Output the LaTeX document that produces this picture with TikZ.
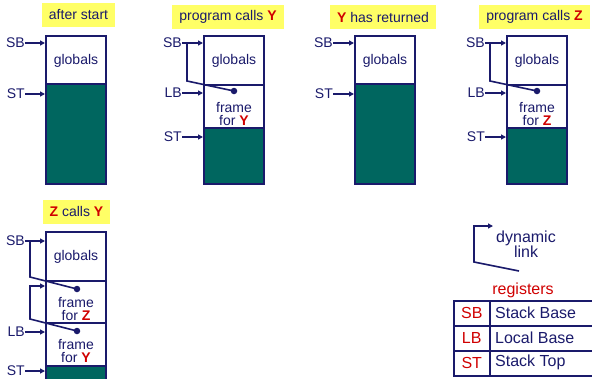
\documentclass[tikz,border=0pt]{standalone}
\usepackage{fontspec}
\setmainfont{Liberation Sans}
\usetikzlibrary{arrows.meta}
\definecolor{nv}{HTML}{1A1A6B}
\definecolor{tl}{HTML}{00665F}
\definecolor{yl}{HTML}{FFFF66}
\definecolor{rd}{HTML}{D00000}
\newcommand{\hl}[1]{\textcolor{rd}{\textbf{#1}}}
\begin{document}
\begin{tikzpicture}[x=1pt,y=-1pt,
  font=\fontsize{14}{13}\selectfont, text=nv,
  cell/.style={draw=nv, line width=2pt, anchor=north west, minimum width=60pt, inner sep=0pt, outer sep=0pt},
  reg/.style={inner sep=0pt, anchor=east},
  ptr/.style={draw=nv, line width=1.6pt, -{Triangle[length=5pt,width=5pt]}, shorten >=1pt},
  link/.style={draw=nv, line width=1.6pt},
  dot/.style={circle, fill=nv, inner sep=0pt, minimum size=6.5pt},
  title/.style={fill=yl, minimum height=24pt, inner xsep=7pt},
  txt/.style={align=center, inner sep=0pt},
  big/.style={font=\fontsize{16}{15}\selectfont},
  tcell/.style={draw=nv, line width=1.5pt, anchor=north west, inner sep=0pt, minimum height=25pt}]
\useasboundingbox (0,0) rectangle (592,378);

% ---------- panel 1 ----------
\node[title] (ti1) at (78.5,15) {after start};
\node[cell,fill=white,minimum height=48pt] (g1) at (46,36) {};
\node[cell,fill=tl,minimum height=100pt] (t1) at (46,84) {};
\node[txt] (g1t) at (76,61) {globals};
\node[reg] (sb1) at (25,43) {SB};
\node[reg] (st1) at (25,94) {ST};
\draw[ptr] (sb1.east) -- (sb1.east -| g1.west);
\draw[ptr] (st1.east) -- (st1.east -| t1.west);

% ---------- panel 2 ----------
\node[title] (ti2) at (228,17) {program calls \hl{Y}};
\node[cell,fill=white,minimum height=49pt] (g2) at (204,36) {};
\node[cell,fill=white,minimum height=43pt] (f2) at (204,85) {};
\node[cell,fill=tl,minimum height=56pt] (t2) at (204,128) {};
\node[txt] (g2t) at (234,61) {globals};
\node[txt] (f2t) at (234,114) {frame\\for \hl{Y}};
\node[reg] (sb2) at (182,43) {SB};
\node[reg] (lb2) at (182,93) {LB};
\node[reg] (st2) at (182,137) {ST};
\draw[ptr] (sb2.east) -- (sb2.east -| g2.west);
\draw[ptr] (lb2.east) -- (lb2.east -| f2.west);
\draw[ptr] (st2.east) -- (st2.east -| t2.west);
\coordinate (l2a) at (187,43);
\coordinate (l2b) at (187,81);
\node[dot] (d2) at (234,91) {};
\draw[link] (l2a) -- (l2b) -- (d2.center);

% ---------- panel 3 ----------
\node[title] (ti3) at (383,17) {\hl{Y} has returned};
\node[cell,fill=white,minimum height=48pt] (g3) at (355,36) {};
\node[cell,fill=tl,minimum height=100pt] (t3) at (355,84) {};
\node[txt] (g3t) at (385,61) {globals};
\node[reg] (sb3) at (333,43) {SB};
\node[reg] (st3) at (333,94) {ST};
\draw[ptr] (sb3.east) -- (sb3.east -| g3.west);
\draw[ptr] (st3.east) -- (st3.east -| t3.west);

% ---------- panel 4 ----------
\node[title] (ti4) at (534.5,17) {program calls \hl{Z}};
\node[cell,fill=white,minimum height=49pt] (g4) at (507,36) {};
\node[cell,fill=white,minimum height=43pt] (f4) at (507,85) {};
\node[cell,fill=tl,minimum height=56pt] (t4) at (507,128) {};
\node[txt] (g4t) at (537,61) {globals};
\node[txt] (f4t) at (537,114) {frame\\for \hl{Z}};
\node[reg] (sb4) at (485,43) {SB};
\node[reg] (lb4) at (485,93) {LB};
\node[reg] (st4) at (485,137) {ST};
\draw[ptr] (sb4.east) -- (sb4.east -| g4.west);
\draw[ptr] (lb4.east) -- (lb4.east -| f4.west);
\draw[ptr] (st4.east) -- (st4.east -| t4.west);
\coordinate (l4a) at (490,43);
\coordinate (l4b) at (490,81);
\node[dot] (d4) at (537,91) {};
\draw[link] (l4a) -- (l4b) -- (d4.center);

% ---------- panel 5 ----------
\node[title] (ti5) at (76.5,211.5) {\hl{Z} calls \hl{Y}};
\node[cell,fill=white,minimum height=49pt] (g5) at (46,232) {};
\node[cell,fill=white,minimum height=42pt] (f5z) at (46,281) {};
\node[cell,fill=white,minimum height=43pt] (f5y) at (46,323) {};
\node[cell,fill=tl,minimum height=16pt] (t5) at (46,366) {};
\node[txt] (g5t) at (76,257) {globals};
\node[txt] (f5zt) at (76,309) {frame\\for \hl{Z}};
\node[txt] (f5yt) at (76,351) {frame\\for \hl{Y}};
\node[reg] (sb5) at (25,241) {SB};
\node[reg] (lb5) at (25,332) {LB};
\node[reg] (st5) at (25,371) {ST};
\draw[ptr] (sb5.east) -- (sb5.east -| g5.west);
\draw[ptr] (lb5.east) -- (lb5.east -| f5y.west);
\draw[ptr] (st5.east) -- (st5.east -| t5.west);
\coordinate (l5a) at (30,241);
\coordinate (l5b) at (30,277);
\node[dot] (d5z) at (77,289) {};
\draw[link] (l5a) -- (l5b) -- (d5z.center);
\node[dot] (d5y) at (77,331) {};
\coordinate (l5c) at (30,319);
\coordinate (l5d) at (30,286);
\draw[link, -{Triangle[length=5pt,width=5pt]}, shorten >=1pt] (d5y.center) -- (l5c) -- (l5d) -- (l5d -| f5z.west);

% ---------- legend ----------
\coordinate (k1) at (519,271);
\coordinate (k2) at (474,262);
\coordinate (k3) at (474,226);
\coordinate (k4) at (493,226);
\draw[link, -{Triangle[length=5pt,width=5pt]}] (k1) -- (k2) -- (k3) -- (k4);
\node[txt, big] (dl) at (526,244.5) {dynamic\\link};
\node[txt, big, text=rd] (regs) at (523,290) {registers};
\node[tcell, minimum width=36pt] (r1a) at (453,300) {};
\node[tcell, minimum width=121pt] (r1b) at (489,300) {};
\node[tcell, minimum width=36pt] (r2a) at (453,325) {};
\node[tcell, minimum width=121pt] (r2b) at (489,325) {};
\node[tcell, minimum width=36pt] (r3a) at (453,350) {};
\node[tcell, minimum width=121pt] (r3b) at (489,350) {};
\node[txt, big, text=rd] (s1) at (r1a.center) {SB};
\node[txt, big, text=rd] (s2) at (r2a.center) {LB};
\node[txt, big, text=rd] (s3) at (r3a.center) {ST};
\node[txt, big, anchor=west] (n1) at (495,312.5) {Stack Base};
\node[txt, big, anchor=west] (n2) at (495,337.5) {Local Base};
\node[txt, big, anchor=west] (n3) at (495,362.5) {Stack Top};
\end{tikzpicture}
\end{document}
